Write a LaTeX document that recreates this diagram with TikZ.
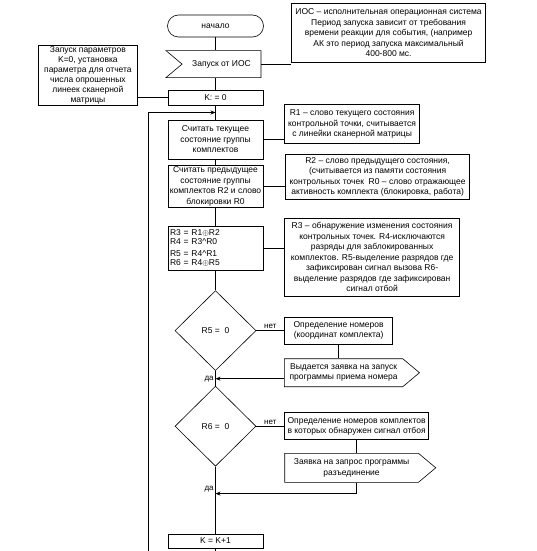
\documentclass[tikz,border=0pt]{standalone}
\usepackage{fontspec}
\setmainfont{Liberation Sans}
\usetikzlibrary{positioning, shapes.geometric, shapes.symbols, arrows.meta}

\begin{document}
\begin{tikzpicture}[
    x=1pt, y=-1pt, line width=0.6pt,
    node distance=12pt and 27pt,
    txt/.style={font=\fontsize{8.5}{10.5}\selectfont},
    terminal/.style={rectangle, draw, txt, rounded corners=11pt, minimum width=96pt, minimum height=22pt, text centered},
    process/.style={rectangle, draw, txt, minimum width=95pt, align=center, inner sep=1pt},
    decision/.style={diamond, draw, txt, minimum width=81pt, minimum height=80pt, inner sep=0pt},
    signalin/.style={signal, draw, txt, signal from=west, signal to=nowhere, signal pointer angle=80, minimum width=95pt, minimum height=27pt},
    signalout/.style={signal, draw, txt, signal to=east, signal pointer angle=80, align=center, inner sep=1pt},
    comment/.style={rectangle, draw, txt, align=center, inner sep=1pt},
    arrow/.style={-{Stealth[length=5pt, width=4pt]}},
    tag/.style={font=\fontsize{8}{9}\selectfont, inner sep=1.5pt}
]
    \useasboundingbox (0,0) rectangle (537,551);

    % Main column
    \node[terminal] (start) at (215.5,26) {начало};
    \node[signalin, below=13pt of start, xshift=6pt] (ios) {Запуск от ИОС};
    \node[process, minimum height=15pt, below=12pt of ios, xshift=-6pt] (kzero) {K: = 0};
    \node[process, minimum height=39pt, below=14pt of kzero] (readcur) {Считать текущее\\состояние группы\\комплектов};
    \node[process, minimum height=42pt, below=6pt of readcur] (readprev) {Считать предыдущее\\состояние группы\\комплектов R2 и слово\\блокировки R0};
    \node[process, minimum height=44pt, text width=91pt, inner sep=2pt, align=left, below=18pt of readprev,
          font=\fontsize{8.5}{9.5}\selectfont] (calc) {R3 = R1$\oplus$R2\\R4 = R3\textasciicircum R0\\[2pt]R5 = R4\textasciicircum R1\\R6 = R4$\oplus$R5};
    \node[decision, below=20pt of calc] (dec5) {R5 = \ 0};
    \node[decision, below=15pt of dec5] (dec6) {R6 = \ 0};
    \node[process, minimum height=14pt, below=67pt of dec6] (kinc) {K = K+1};

    % Comments
    \node[comment, minimum width=194pt, minimum height=59pt, anchor=south west] (noteios)
        at ([xshift=30pt, yshift=1.5pt]ios.east)
        {ИОС – исполнительная операционная система\\Период запуска зависит от требования\\времени реакции для события, (например\\АК это период запуска максимальный\\400-800 мс.};
    \node[comment, minimum width=99pt, minimum height=60pt, anchor=south east,
          font=\fontsize{8.5}{10}\selectfont] (notek)
        at ([xshift=-30pt]kzero.south west)
        {Запуск параметров\\K=0, установка\\параметра для отчета\\числа опрошенных\\линеек сканерной\\матрицы};
    \node[comment, minimum width=135pt, minimum height=39pt, anchor=south west] (noter1)
        at ([xshift=21pt, yshift=-4.5pt]readcur.east)
        {R1 – слово текущего состояния\\контрольной точки, считывается\\с линейки сканерной матрицы};
    \node[comment, minimum width=184pt, minimum height=45pt, anchor=west] (noter2)
        at ([xshift=22pt, yshift=9.5pt]readprev.east)
        {R2 – слово предыдущего состояния,\\(считывается из памяти состояния\\контрольных точек \ R0 – слово отражающее\\активность комплекта (блокировка, работа)};
    \node[comment, minimum width=175pt, minimum height=78pt, anchor=west] (noter3)
        at ([xshift=21pt, yshift=-9pt]calc.east)
        {R3 – обнаружение изменения состояния\\контрольных точек. R4-исключаются\\разряды для заблокированных\\комплектов. R5-выделение разрядов где\\зафиксирован сигнал вызова R6-\\выделение разрядов где зафиксирован\\сигнал отбой};

    % Branches
    \node[process, minimum width=108pt, minimum height=27pt, right=28pt of dec5] (find5) {Определение номеров\\(координат комплекта)};
    \node[signalout, minimum width=135pt, minimum height=28pt, below=14pt of find5, xshift=5pt] (out5) {Выдается заявка на запуск\\программы приема номера};
    \node[process, minimum width=144pt, minimum height=27pt, right=28pt of dec6] (find6) {Определение номеров комплектов\\в которых обнаружен сигнал отбоя};
    \node[signalout, minimum width=151pt, minimum height=29pt, below=13pt of find6, xshift=-5pt] (out6) {Заявка на запрос программы\\разъединение};

    \coordinate (loopfoot) at (148,551);
    \coordinate (loophead) at ([yshift=-7pt]kzero.south);
    \coordinate (mainfoot) at (kinc.south |- loopfoot);

    % Edges
    \draw (start) -- (start.south |- ios.north);
    \draw (kzero.north |- ios.south) -- (kzero);
    \draw (kzero) -- (readcur);
    \draw (readcur) -- (readprev);
    \draw (readprev) -- (calc);
    \draw (calc) -- (dec5);
    \draw (dec5) -- (dec6);
    \draw (dec6) -- (kinc);
    \draw (kinc) -- (mainfoot);
    \draw[arrow] (loopfoot) |- (loophead);

    \draw (ios.east) -- (ios.east -| noteios.west);
    \draw (kzero.west) -- (kzero.west -| notek.east);
    \draw (readcur.east) -- (readcur.east -| noter1.west);
    \draw (readprev.east) -- (readprev.east -| noter2.west);
    \draw (calc.east) -- (calc.east -| noter3.west);

    \draw (dec5) -- node[above, tag] {нет} (find5);
    \draw (find5) -- (find5.south |- out5.north);
    \draw[arrow] ([yshift=-6pt]out5.west) -- ([yshift=-6pt]out5.west -| dec5.south) node[left, tag] {да};

    \draw (dec6) -- node[above, tag] {нет} (find6);
    \draw (find6) -- (find6.south |- out6.north);
    \draw[arrow] (find6.south |- out6.south) |- ([yshift=-11pt]out6.south -| dec6.south) node[above left, tag] {да};
\end{tikzpicture}
\end{document}
